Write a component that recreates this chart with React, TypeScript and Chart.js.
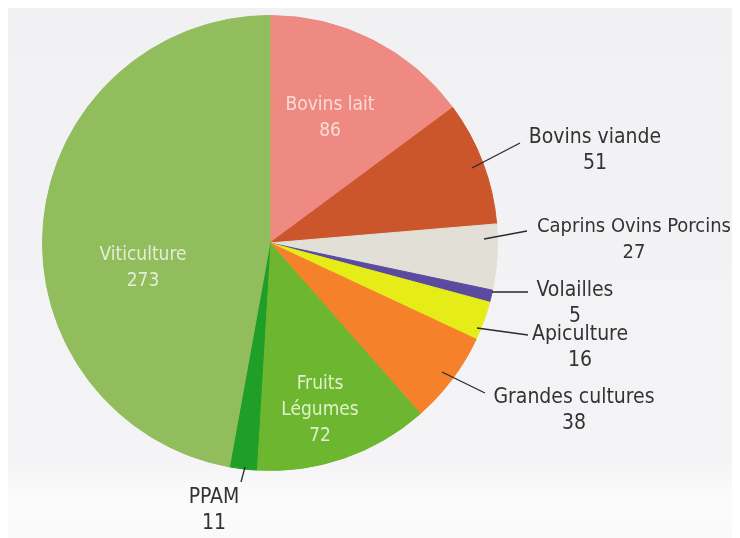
import React, { useEffect, useRef } from "react";
import { Chart, registerables } from "chart.js";

Chart.register(...registerables);

const categories = [
  "Bovins lait",
  "Bovins viande",
  "Caprins Ovins Porcins",
  "Volailles",
  "Apiculture",
  "Grandes cultures",
  "Fruits Légumes",
  "PPAM",
  "Viticulture",
];
const values = [86, 51, 27, 5, 16, 38, 72, 11, 273];
const sliceColors = [
  "#ef8a82",
  "#cb562c",
  "#e2e0d6",
  "#5a4aa0",
  "#e6ec18",
  "#f5822a",
  "#6cb72f",
  "#1f9e28",
  "#91bd5c",
];

// label layout (offsets from pie centre, px) — kept apart from the data
const FONT = '"Liberation Sans Narrow", "DejaVu Sans Condensed", "Open Sans", sans-serif';
type Lbl = {
  lines: string[];
  dx: number;
  dy: number;
  color: string;
  inside: boolean;
  size?: number;
  lineFrom?: [number, number];
  lineTo?: [number, number];
};
const labelLayout: Lbl[] = [
  { lines: ["Bovins lait", "86"], dx: 60, dy: -138, color: "#f9dcd6", inside: true },
  { lines: ["Bovins viande", "51"], dx: 325, dy: -105, color: "#333333", inside: false, lineFrom: [202, -75], lineTo: [250, -100] },
  { lines: ["Caprins Ovins Porcins", "27"], dx: 364, dy: -16, color: "#333333", inside: false, size: 20, lineFrom: [214, -4], lineTo: [257, -12] },
  { lines: ["Volailles", "5"], dx: 305, dy: 48, color: "#333333", inside: false, lineFrom: [222, 49], lineTo: [258, 49] },
  { lines: ["Apiculture", "16"], dx: 310, dy: 92, color: "#333333", inside: false, lineFrom: [207, 85], lineTo: [258, 92] },
  { lines: ["Grandes cultures", "38"], dx: 304, dy: 155, color: "#333333", inside: false, lineFrom: [172, 129], lineTo: [215, 150] },
  { lines: ["Fruits", "Légumes", "72"], dx: 50, dy: 141, color: "#e2f0cc", inside: true },
  { lines: ["PPAM", "11"], dx: -56, dy: 255, color: "#333333", inside: false, lineFrom: [-25, 224], lineTo: [-29, 239] },
  { lines: ["Viticulture", "273"], dx: -127, dy: 12, color: "#e4eed6", inside: true },
];

const bgPlugin = {
  id: "bg",
  beforeDraw(chart: any) {
    const { ctx, width, height } = chart;
    ctx.save();
    const g = ctx.createLinearGradient(0, 0, 0, height);
    g.addColorStop(0, "#f1f1f3");
    g.addColorStop(0.85, "#f4f4f6");
    g.addColorStop(0.92, "#fbfbfc");
    g.addColorStop(1, "#fafafa");
    ctx.fillStyle = g;
    ctx.fillRect(0, 0, width, height);
    ctx.restore();
  },
};

const labelPlugin = {
  id: "pieLabels",
  afterDatasetsDraw(chart: any) {
    const { ctx } = chart;
    const arc = chart.getDatasetMeta(0).data[0];
    if (!arc) return;
    const cx = arc.x;
    const cy = arc.y;
    ctx.save();
    ctx.textAlign = "center";
    ctx.textBaseline = "middle";
    labelLayout.forEach((l) => {
      if (l.lineFrom && l.lineTo) {
        ctx.beginPath();
        ctx.strokeStyle = "#2a2a2a";
        ctx.lineWidth = 1.3;
        ctx.moveTo(cx + l.lineFrom[0], cy + l.lineFrom[1]);
        ctx.lineTo(cx + l.lineTo[0], cy + l.lineTo[1]);
        ctx.stroke();
      }
      ctx.fillStyle = l.color;
      ctx.font = `${l.size ?? (l.inside ? 19 : 21)}px ${FONT}`;
      l.lines.forEach((t, i) => {
        ctx.fillText(t, cx + l.dx, cy + l.dy + i * 26);
      });
    });
    ctx.restore();
  },
};

export default function App() {
  const ref = useRef<HTMLCanvasElement>(null);
  useEffect(() => {
    if (!ref.current) return;
    const chart = new Chart(ref.current, {
      type: "pie",
      data: {
        labels: categories,
        datasets: [
          {
            data: values,
            backgroundColor: sliceColors,
            borderColor: sliceColors,
            borderWidth: 1,
          },
        ],
      },
      options: {
        responsive: false,
        animation: false,
        layout: { padding: { left: 34, right: 242, top: 7, bottom: 67 } },
        plugins: {
          legend: { display: false },
          tooltip: { enabled: false },
        },
      },
      plugins: [bgPlugin, labelPlugin],
    });
    return () => chart.destroy();
  }, []);
  return <canvas ref={ref} width={732} height={530} style={{ display: "block" }} />;
}
